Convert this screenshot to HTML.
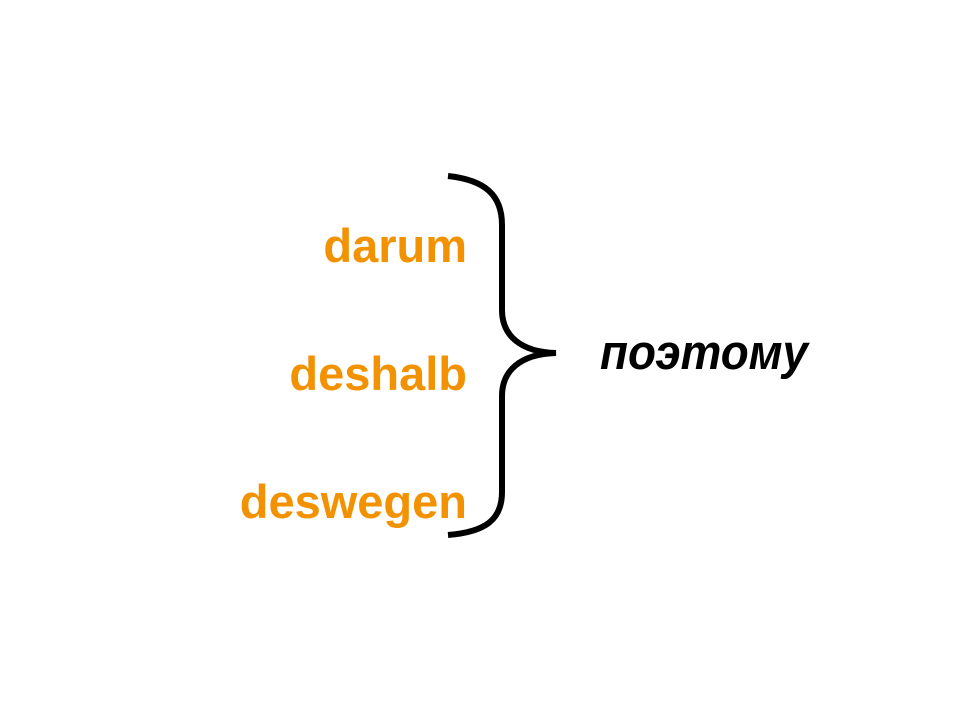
<!DOCTYPE html>
<html><head><meta charset="utf-8"><style>
body{margin:0;background:#fff;width:960px;height:720px;overflow:hidden}
</style></head><body>
<svg width="960" height="720" xmlns="http://www.w3.org/2000/svg">
<path d="M448 176 C485 180 502 195 502 225 L502 310 C502 335 520 352 556 353 C520 354 502 371 502 396 L502 492 C502 520 485 532 448 535" fill="none" stroke="#000" stroke-width="6"/>
<g font-family="Liberation Sans, sans-serif" font-weight="bold" font-size="47" fill="#f39200" text-anchor="end">
<text x="467" y="262">darum</text>
<text x="467" y="390">deshalb</text>
<text x="467" y="518">deswegen</text>
</g>
<text x="600" y="369" font-family="Liberation Sans, sans-serif" font-weight="bold" font-style="italic" font-size="49" fill="#000" textLength="208" lengthAdjust="spacingAndGlyphs">поэтому</text>
</svg>
</body></html>
